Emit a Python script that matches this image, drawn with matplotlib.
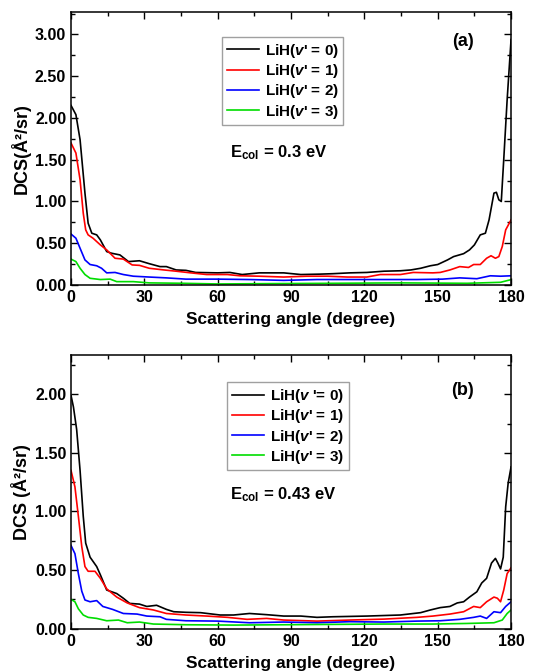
import matplotlib
matplotlib.use("Agg")
import matplotlib.pyplot as plt
from matplotlib.ticker import MultipleLocator, FormatStrFormatter

plt.rcParams['font.family'] = ['Liberation Sans', 'DejaVu Sans']
plt.rcParams['font.weight'] = 'bold'
plt.rcParams['mathtext.fontset'] = 'custom'
plt.rcParams['mathtext.rm'] = 'Liberation Sans:bold'
plt.rcParams['mathtext.bf'] = 'Liberation Sans:bold'
plt.rcParams['mathtext.it'] = 'Liberation Sans:italic:bold'

# ---- panel (a), E_col = 0.3 eV ----
a_x0 = [0, 2, 3.7, 5.7, 7, 8.5, 10.5, 12, 14.6, 16.6, 20, 23.5, 28, 32, 36.4, 39, 43, 47, 51,
        60, 65, 70, 77, 87, 94, 102, 107, 114, 121, 128, 134.7, 139, 143, 147, 150, 154,
        156.5, 160.6, 163, 165, 167.4, 169.5, 171, 173, 174, 175, 176, 177, 178.4, 180]
a_y0 = [2.15, 2.04, 1.74, 1.10, 0.74, 0.62, 0.60, 0.54, 0.40, 0.38, 0.36, 0.28, 0.29, 0.255, 0.22,
        0.22, 0.18, 0.175, 0.15, 0.145, 0.15, 0.125, 0.145, 0.145, 0.125, 0.13, 0.135, 0.145,
        0.15, 0.165, 0.17, 0.18, 0.20, 0.23, 0.245, 0.30, 0.34, 0.375, 0.42, 0.48, 0.60, 0.62,
        0.78, 1.10, 1.11, 1.02, 1.00, 1.50, 2.22, 2.94]
a_x1 = [0, 2, 3.7, 5, 6, 7, 9, 12, 14.6, 18, 21.4, 25, 28, 32, 38, 43, 49, 55.5, 64, 69, 77, 87,
        96.5, 105, 113, 121, 126.5, 134.7, 140, 148, 151, 155, 159, 162.6, 164.7, 167.4, 170,
        171.8, 173.6, 175, 176.4, 177.8, 180]
a_y1 = [1.70, 1.58, 1.26, 0.86, 0.66, 0.60, 0.56, 0.48, 0.42, 0.32, 0.31, 0.24, 0.235, 0.20, 0.18,
        0.165, 0.145, 0.125, 0.125, 0.11, 0.105, 0.095, 0.105, 0.105, 0.095, 0.095, 0.125, 0.125,
        0.15, 0.145, 0.15, 0.18, 0.22, 0.21, 0.245, 0.245, 0.32, 0.35, 0.32, 0.34, 0.46, 0.66, 0.78]
a_x2 = [0, 2, 3.7, 5.7, 7.8, 10.5, 12.5, 14.6, 18, 21.4, 25.5, 32, 39, 47, 60, 73, 87, 100.6,
        114, 128, 141.5, 152, 159, 166, 171.5, 175.7, 180]
a_y2 = [0.61, 0.56, 0.44, 0.30, 0.245, 0.23, 0.20, 0.145, 0.15, 0.125, 0.105, 0.095, 0.085, 0.07,
        0.07, 0.065, 0.055, 0.065, 0.065, 0.065, 0.065, 0.07, 0.085, 0.075, 0.11, 0.105, 0.11]
a_x3 = [0, 2, 3.7, 5.7, 7.8, 12, 16, 18.7, 25.5, 32, 46, 60, 80, 107, 134.7, 162, 175.7, 180]
a_y3 = [0.31, 0.28, 0.20, 0.125, 0.08, 0.065, 0.07, 0.04, 0.04, 0.025, 0.02, 0.012, 0.016, 0.02,
        0.025, 0.02, 0.032, 0.064]

# ---- panel (b), E_col = 0.43 eV ----
b_x0 = [0, 1, 2.3, 3.7, 5, 6, 7.8, 10.5, 12, 14.6, 18.7, 21.4, 24, 28, 31, 35, 39, 42, 47, 53,
        61, 66.5, 73, 80, 87, 94, 100.6, 107, 121, 134.7, 143, 147, 151, 155, 158, 160.6, 163,
        166, 168, 170, 172, 173.6, 174.6, 175.7, 176.8, 177.8, 178.8, 180]
b_y0 = [1.99, 1.89, 1.70, 1.35, 0.96, 0.73, 0.61, 0.53, 0.46, 0.33, 0.30, 0.26, 0.216, 0.21, 0.19,
        0.20, 0.165, 0.145, 0.14, 0.137, 0.117, 0.117, 0.13, 0.12, 0.108, 0.108, 0.097, 0.102,
        0.108, 0.117, 0.137, 0.16, 0.18, 0.19, 0.22, 0.23, 0.27, 0.315, 0.39, 0.43, 0.56, 0.60,
        0.56, 0.51, 0.61, 1.04, 1.24, 1.38]
b_x1 = [0, 1.6, 3, 4.4, 5.7, 7, 9.8, 12, 14.6, 18.7, 23, 28, 33.7, 39, 47, 55.5, 64, 72, 80, 87,
        100.6, 114, 128, 141.5, 148, 155, 160.6, 164.7, 167.4, 170, 173, 174.4, 175.7, 177,
        178.4, 180]
b_y1 = [1.35, 1.21, 0.96, 0.70, 0.53, 0.49, 0.49, 0.43, 0.34, 0.27, 0.22, 0.18, 0.16, 0.13, 0.117,
        0.108, 0.097, 0.08, 0.088, 0.074, 0.065, 0.074, 0.082, 0.097, 0.108, 0.125, 0.145, 0.19,
        0.18, 0.23, 0.27, 0.26, 0.23, 0.33, 0.47, 0.52]
b_x2 = [0, 1.6, 3, 4.4, 5.7, 7.8, 10.5, 13, 17, 21.4, 27, 31, 36.4, 39, 47, 60, 73, 87, 100.6,
        114, 128, 141.5, 151, 159, 164.7, 167.4, 170, 173, 175.7, 177.8, 180]
b_y2 = [0.71, 0.64, 0.47, 0.32, 0.245, 0.23, 0.24, 0.19, 0.165, 0.13, 0.125, 0.108, 0.102, 0.08,
        0.068, 0.065, 0.051, 0.057, 0.051, 0.06, 0.057, 0.065, 0.068, 0.08, 0.097, 0.108, 0.088,
        0.145, 0.137, 0.19, 0.23]
b_x3 = [0, 1.6, 3, 5, 7, 10.5, 14.6, 19.4, 23, 28, 33.7, 47, 66.5, 87, 107, 128, 148, 162, 173,
        176.4, 178.4, 180]
b_y3 = [0.25, 0.23, 0.17, 0.117, 0.097, 0.088, 0.068, 0.074, 0.051, 0.057, 0.04, 0.034, 0.031,
        0.034, 0.037, 0.04, 0.04, 0.045, 0.051, 0.074, 0.13, 0.16]

colors = ['black', '#ff0000', '#0000ff', '#00dd00']
labels_a = ["LiH($v$' = 0)", "LiH($v$' = 1)", "LiH($v$' = 2)", "LiH($v$' = 3)"]
labels_b = ["LiH($v$ '= 0)", "LiH($v$' = 1)", "LiH($v$' = 2)", "LiH($v$' = 3)"]

fig = plt.figure(figsize=(5.48, 6.71), dpi=100)
ax_a = fig.add_axes([0.1296, 0.5753, 0.803, 0.4069])
ax_b = fig.add_axes([0.1296, 0.063, 0.803, 0.408])


def style(ax, ymax, ylabel):
    ax.set_xlim(0, 180)
    ax.set_ylim(0, ymax)
    ax.xaxis.set_major_locator(MultipleLocator(30))
    ax.xaxis.set_minor_locator(MultipleLocator(15))
    ax.yaxis.set_major_locator(MultipleLocator(0.5))
    ax.yaxis.set_minor_locator(MultipleLocator(0.25))
    ax.yaxis.set_major_formatter(FormatStrFormatter('%.2f'))
    ax.tick_params(which='both', direction='in', top=True, right=True, labelsize=11.5, width=1)
    ax.tick_params(which='major', length=5)
    ax.tick_params(which='minor', length=3)
    for lab in ax.get_xticklabels() + ax.get_yticklabels():
        lab.set_fontweight('bold')
    for sp in ax.spines.values():
        sp.set_linewidth(1.1)
    ax.set_xlabel("Scattering angle (degree)", fontsize=12.5, fontweight='bold', labelpad=5)
    ax.set_ylabel(ylabel, fontsize=13, fontweight='bold', labelpad=3)


def legend(ax, anchor, handles_labels):
    leg = ax.legend(loc='upper left', bbox_to_anchor=anchor, fontsize=11,
                    fancybox=False, edgecolor='#888888', handlelength=2.1,
                    borderpad=0.3, labelspacing=0.15, handletextpad=0.4, borderaxespad=0)
    leg.get_frame().set_linewidth(1.0)


for xs, ys, c, lab in zip([a_x0, a_x1, a_x2, a_x3], [a_y0, a_y1, a_y2, a_y3], colors, labels_a):
    ax_a.plot(xs, ys, color=c, lw=1.2, label=lab)
style(ax_a, 3.27, "DCS(Å²/sr)")
legend(ax_a, (0.343, 0.908), labels_a)
ax_a.text(0.361, 0.483, r"E$_{\mathrm{col}}$ = 0.3 eV", transform=ax_a.transAxes,
          fontsize=12, fontweight='bold', va='center', ha='left')
ax_a.text(0.89, 0.891, "(a)", transform=ax_a.transAxes, fontsize=13, fontweight='bold',
          ha='center', va='center')

for xs, ys, c, lab in zip([b_x0, b_x1, b_x2, b_x3], [b_y0, b_y1, b_y2, b_y3], colors, labels_b):
    ax_b.plot(xs, ys, color=c, lw=1.2, label=lab)
style(ax_b, 2.335, "DCS (Å²/sr)")
legend(ax_b, (0.355, 0.900), labels_b)
ax_b.text(0.361, 0.488, r"E$_{\mathrm{col}}$ = 0.43 eV", transform=ax_b.transAxes,
          fontsize=12, fontweight='bold', va='center', ha='left')
ax_b.text(0.89, 0.872, "(b)", transform=ax_b.transAxes, fontsize=13, fontweight='bold',
          ha='center', va='center')

fig.savefig("out.png", dpi=100)
